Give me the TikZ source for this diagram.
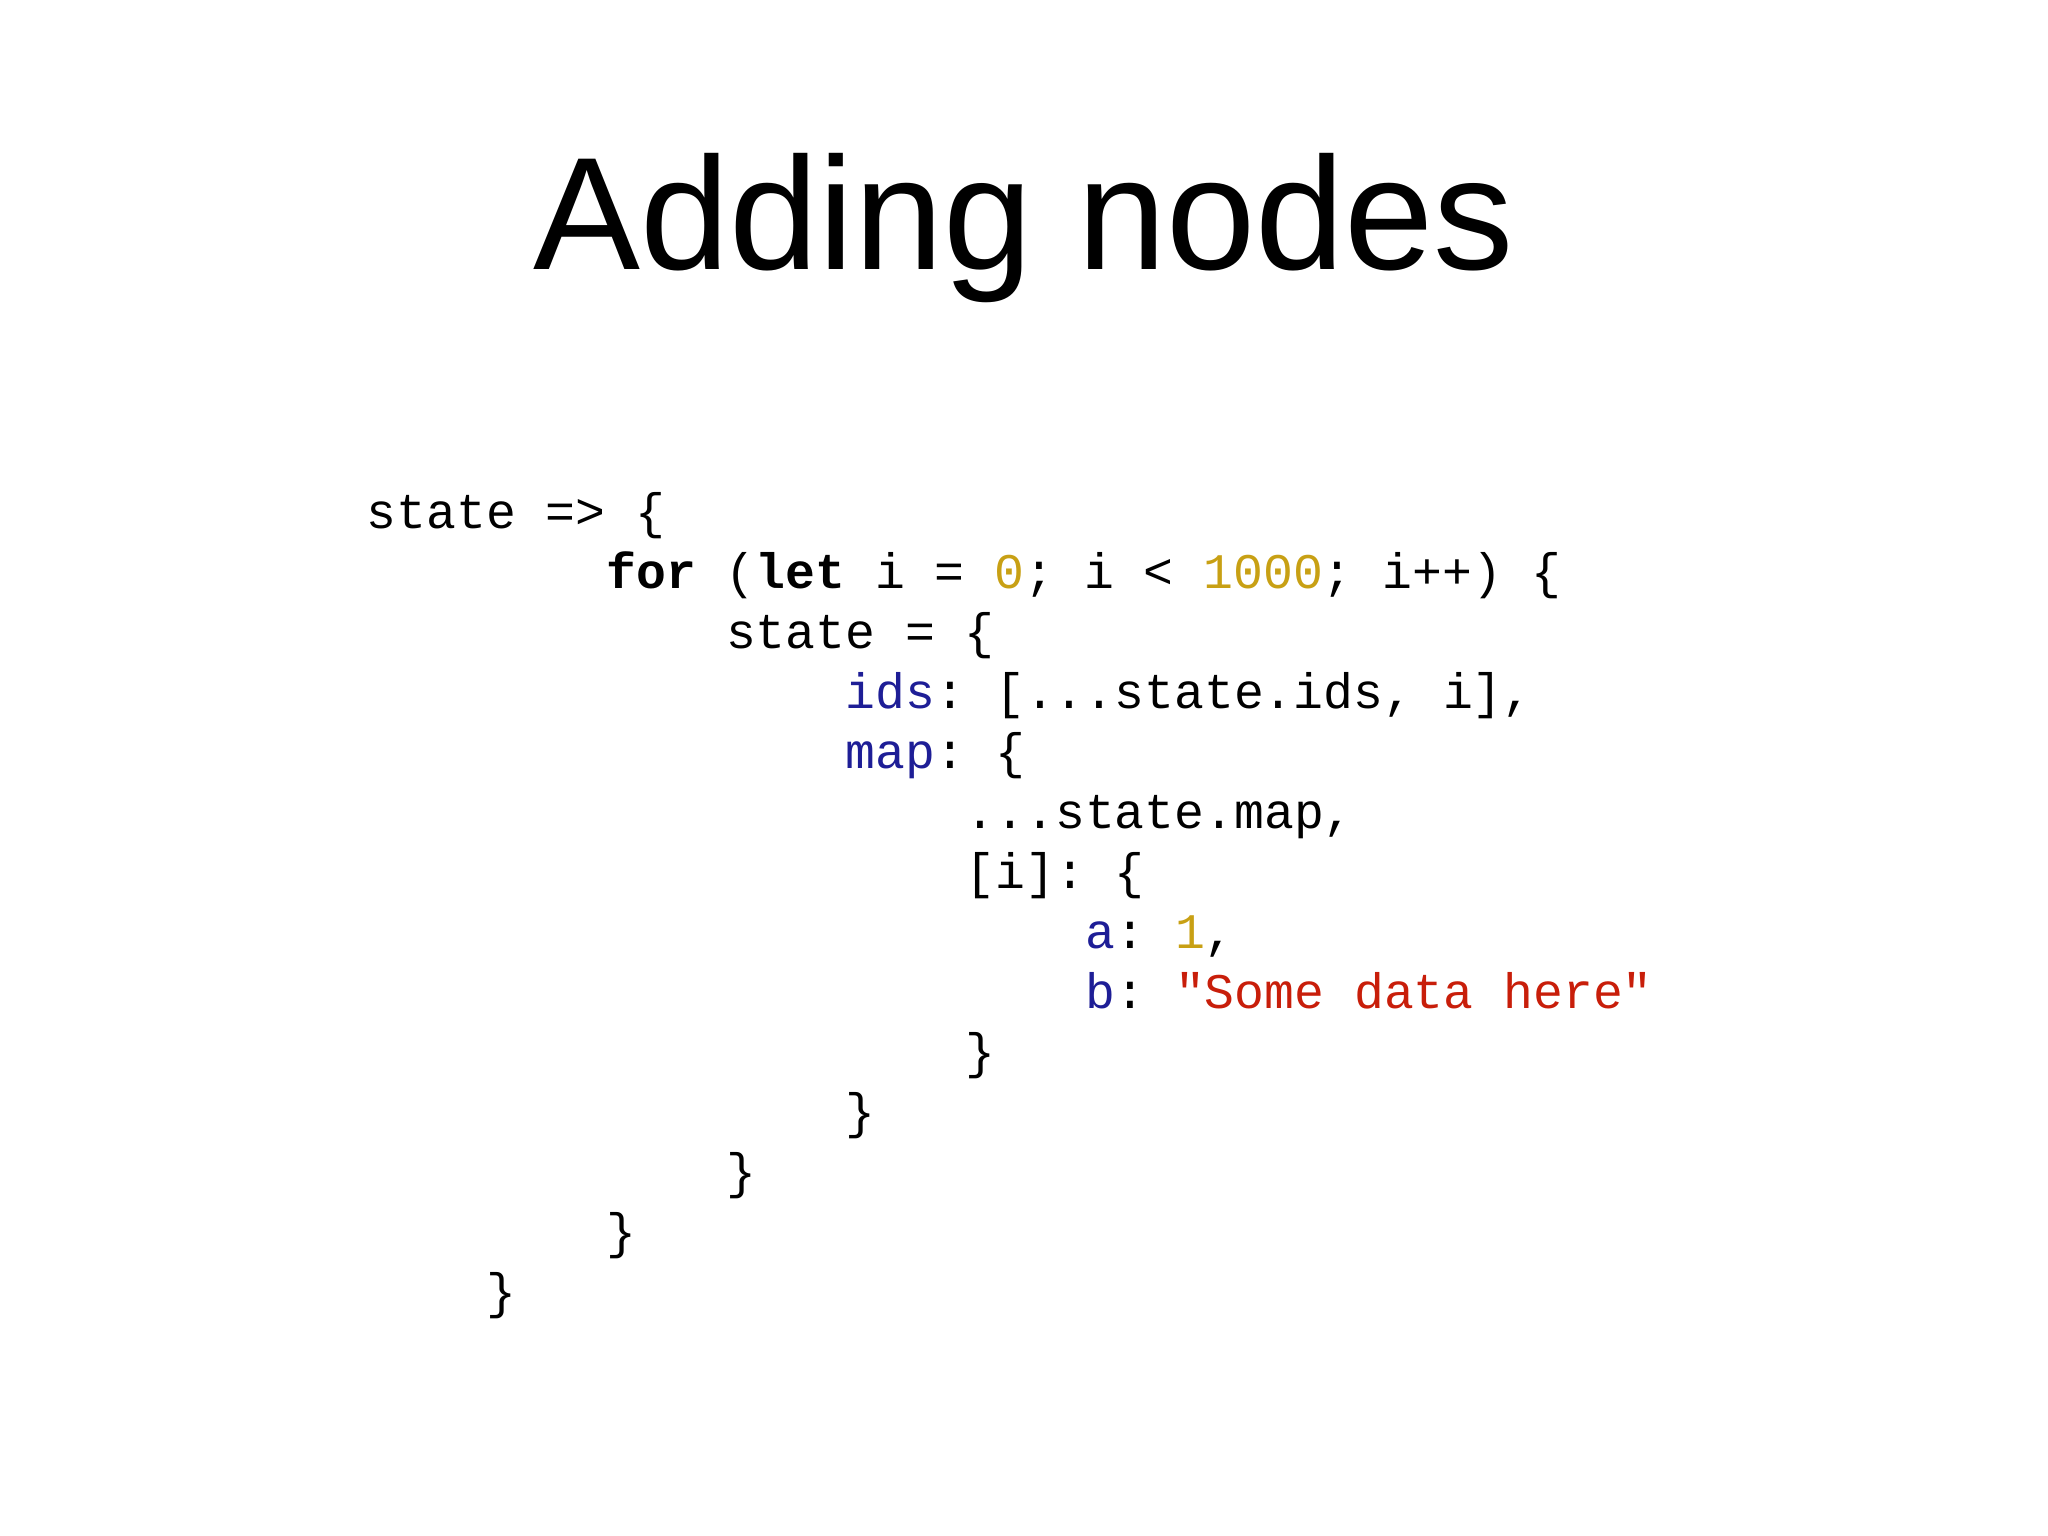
\documentclass[tikz,border=0pt]{standalone}
\usepackage{fontspec}
\setmainfont{Liberation Sans}
\setmonofont{Liberation Mono}
\definecolor{kw}{RGB}{30,30,150}
\definecolor{num}{RGB}{200,160,20}
\definecolor{str}{RGB}{200,30,10}
\begin{document}
\begin{tikzpicture}[x=0.01cm,y=0.01cm,
  code/.style={anchor=base west,inner sep=0pt,font=\ttfamily\fontsize{14.15}{17}\selectfont}]
\useasboundingbox (0,0) rectangle (2048,1536);
\node[anchor=base,inner sep=0pt,font=\fontsize{45.6}{52}\selectfont] (title) at (1024,1266) {Adding nodes};
\def\cw{29.95}
\def\lx{366}
\def\ly{1007}
\def\ls{60}
\node[code] (l1) at (\lx+0*\cw,\ly-0*\ls) {state => \{};
\node[code] (l2) at (\lx+8*\cw,\ly-1*\ls) {\textbf{for} (\textbf{let} i = \textcolor{num}{0}; i < \textcolor{num}{1000}; i++) \{};
\node[code] (l3) at (\lx+12*\cw,\ly-2*\ls) {state = \{};
\node[code] (l4) at (\lx+16*\cw,\ly-3*\ls) {\textcolor{kw}{ids}: [...state.ids, i],};
\node[code] (l5) at (\lx+16*\cw,\ly-4*\ls) {\textcolor{kw}{map}: \{};
\node[code] (l6) at (\lx+20*\cw,\ly-5*\ls) {...state.map,};
\node[code] (l7) at (\lx+20*\cw,\ly-6*\ls) {[i]: \{};
\node[code] (l8) at (\lx+24*\cw,\ly-7*\ls) {\textcolor{kw}{a}: \textcolor{num}{1},};
\node[code] (l9) at (\lx+24*\cw,\ly-8*\ls) {\textcolor{kw}{b}: \textcolor{str}{"Some data here"}};
\node[code] (l10) at (\lx+20*\cw,\ly-9*\ls) {\}};
\node[code] (l11) at (\lx+16*\cw,\ly-10*\ls) {\}};
\node[code] (l12) at (\lx+12*\cw,\ly-11*\ls) {\}};
\node[code] (l13) at (\lx+8*\cw,\ly-12*\ls) {\}};
\node[code] (l14) at (\lx+4*\cw,\ly-13*\ls) {\}};
\end{tikzpicture}
\end{document}
